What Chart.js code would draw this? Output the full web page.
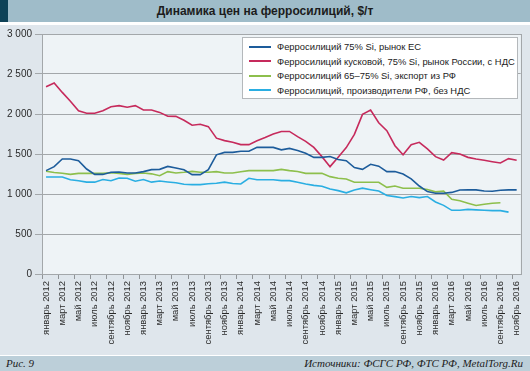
<!DOCTYPE html>
<html>
<head>
<meta charset="utf-8">
<script src="https://cdn.jsdelivr.net/npm/chart.js@4"></script>
<style>
  body { margin: 0; background: #fff; }
  #wrap { position: relative; width: 530px; height: 371px; background: #dfe6ec; overflow: hidden; font-family: 'Liberation Sans', Arial, sans-serif; }
  #title { position: absolute; left: 0; top: 0; width: 530px; height: 22px; background: #9fbcc9; }
  #title .mark { position: absolute; left: 0; top: 0; width: 8px; height: 22px; background: #0e4257; }
  #title .txt { text-align: center; font-weight: bold; font-size: 12px; line-height: 22px; color: #1c1c1c; }
  #gap { position: absolute; left: 0; top: 22px; width: 530px; height: 3px; background: #fff; }
  #chart { position: absolute; left: 0; top: 25px; }
  #legend { position: absolute; left: 242px; top: 37px; width: 274px; height: 60px; background: #fff; border: 1px solid #b4b8bb; }
  #legend .item { position: absolute; left: 6px; height: 14px; font-size: 9.4px; line-height: 14px; color: #222; white-space: nowrap; }
  #legend .item i { display: inline-block; width: 22px; height: 2px; vertical-align: middle; margin-right: 6px; position: relative; top: -1px; }
  #foot { position: absolute; left: 0; top: 355px; width: 530px; height: 16px; background: #bccfd9; border-top: 1px solid #fff; font-family: 'Liberation Serif', 'Times New Roman', serif; font-style: italic; font-size: 11px; line-height: 15px; color: #1c1c1c; }
  #foot .l { position: absolute; left: 6px; }
  #foot .r { position: absolute; right: 7px; }
</style>
</head>
<body>
<div id="wrap">
  <div id="title"><div class="mark"></div><div class="txt">Динамика цен на ферросилиций, $/т</div></div>
  <div id="gap"></div>
  <canvas id="chart" width="530" height="330"></canvas>
  <div id="legend"></div>
  <div id="foot"><span class="l">Рис. 9</span><span class="r">Источники: ФСГС РФ, ФТС РФ, MetalTorg.Ru</span></div>
</div>
<script>
// months Jan 2012 .. Nov 2016
const monthNames = ['январь', 'февраль', 'март', 'апрель', 'май', 'июнь', 'июль', 'август', 'сентябрь', 'октябрь', 'ноябрь', 'декабрь'];
const years = [2012, 2013, 2014, 2015, 2016];
const months = [];
years.forEach(y => monthNames.forEach(m => months.push(m + ' ' + y)));
months.length = 59;

const seriesNames = [
    'Ферросилиций 75% Si, рынок ЕС',
    'Ферросилиций кусковой, 75% Si, рынок России, с НДС',
    'Ферросилиций 65–75% Si, экспорт из РФ',
    'Ферросилиций, производители РФ, без НДС'
];

const euMarket = [1292, 1342, 1437, 1437, 1417, 1312, 1245, 1245, 1271, 1275, 1262, 1262,
    1280, 1305, 1308, 1345, 1325, 1302, 1242, 1242, 1305, 1490, 1520, 1520,
    1535, 1535, 1583, 1583, 1583, 1552, 1570, 1545, 1508, 1458, 1458, 1469,
    1431, 1416, 1330, 1308, 1371, 1348, 1280, 1280, 1250, 1190, 1100, 1030,
    1010, 1010, 1020, 1050, 1052, 1052, 1037, 1035, 1047, 1052, 1052];

const lumpRussia = [2340, 2388, 2270, 2160, 2040, 2010, 2010, 2040, 2090, 2105, 2085, 2105,
    2050, 2050, 2020, 1972, 1970, 1922, 1860, 1872, 1842, 1698, 1667, 1646,
    1617, 1617, 1665, 1705, 1750, 1782, 1782, 1717, 1658, 1583, 1467, 1342,
    1460, 1580, 1745, 1995, 2050, 1890, 1792, 1604, 1490, 1617, 1646, 1563,
    1467, 1425, 1517, 1500, 1458, 1437, 1421, 1404, 1387, 1442, 1421];

const exportRF = [1285, 1268, 1260, 1245, 1258, 1258, 1258, 1258, 1265, 1258, 1245, 1258,
    1262, 1252, 1228, 1280, 1262, 1271, 1283, 1271, 1271, 1279, 1262, 1262,
    1279, 1292, 1292, 1292, 1292, 1308, 1292, 1281, 1258, 1258, 1258, 1217,
    1196, 1187, 1146, 1146, 1146, 1146, 1083, 1100, 1071, 1071, 1071, 1056,
    1027, 1035, 935, 915, 885, 856, 871, 885, 890, null, null];

const producersRF = [1212, 1212, 1212, 1179, 1165, 1148, 1148, 1181, 1165, 1200, 1196, 1160,
    1181, 1148, 1162, 1150, 1140, 1121, 1117, 1117, 1129, 1135, 1148, 1131,
    1125, 1196, 1179, 1179, 1179, 1167, 1167, 1146, 1125, 1108, 1096, 1062,
    1042, 1015, 1050, 1073, 1054, 1037, 981, 967, 950, 968, 955, 968,
    900, 858, 796, 796, 808, 802, 796, 792, 792, 773, null];

const seriesColors = ['#1d5c9b', '#c62a5c', '#8dbf4c', '#2aaee2'];
const seriesData = [euMarket, lumpRussia, exportRF, producersRF];

// legend
const legend = document.getElementById('legend');
seriesNames.forEach((name, i) => {
    const d = document.createElement('div');
    d.className = 'item';
    d.style.top = (2 + i * 14.6) + 'px';
    d.innerHTML = '<i style="background:' + seriesColors[i] + '"></i>' + name;
    legend.appendChild(d);
});

const plotFrame = {
    id: 'plotFrame',
    beforeDraw(chart) {
        const { ctx, chartArea: a } = chart;
        ctx.save();
        ctx.fillStyle = '#eef3f6';
        ctx.fillRect(a.left, a.top, a.right - a.left, a.bottom - a.top);
        ctx.restore();
    },
    beforeDatasetsDraw(chart) {
        const { ctx, chartArea: a } = chart;
        ctx.save();
        ctx.strokeStyle = '#a3a7aa';
        ctx.lineWidth = 1;
        ctx.strokeRect(Math.round(a.left) + 0.5, Math.round(a.top) + 0.5, Math.round(a.right - a.left), Math.round(a.bottom - a.top));
        ctx.restore();
    }
};

const ctx = document.getElementById('chart').getContext('2d');
new Chart(ctx, {
    type: 'line',
    data: {
        labels: months,
        datasets: seriesNames.map((name, i) => ({
            label: name,
            data: seriesData[i],
            borderColor: seriesColors[i],
            borderWidth: 1.6,
            pointRadius: 0,
            tension: 0,
            spanGaps: false
        }))
    },
    options: {
        responsive: false,
        devicePixelRatio: 1,
        animation: false,
        layout: { padding: { top: 8, right: 7, left: 0, bottom: 0 } },
        plugins: { legend: { display: false }, tooltip: { enabled: false } },
        scales: {
            x: {
                offset: true,
                border: { display: false },
                grid: {
                    offset: true,
                    drawOnChartArea: false,
                    tickLength: 5,
                    color: c => (c.index % 2 === 0 ? '#8f9396' : 'rgba(0,0,0,0)')
                },
                ticks: {
                    autoSkip: false,
                    minRotation: 90,
                    maxRotation: 90,
                    padding: 2,
                    color: '#2a2a2a',
                    font: { family: 'Liberation Sans', size: 9.4 },
                    callback: function (v, i) { return i % 2 === 0 ? this.getLabelForValue(v) : ''; }
                },
                afterFit: s => { s.height = 81; }
            },
            y: {
                min: 0,
                max: 3000,
                border: { display: false },
                grid: { color: '#a3a7aa', tickLength: 7 },
                ticks: {
                    stepSize: 500,
                    padding: 3,
                    color: '#2a2a2a',
                    font: { family: 'Liberation Sans', size: 10 },
                    callback: v => String(v).replace(/\B(?=(\d{3})+$)/, ' ')
                },
                afterFit: s => { s.width = 42; }
            }
        }
    },
    plugins: [plotFrame]
});
</script>
</body>
</html>
